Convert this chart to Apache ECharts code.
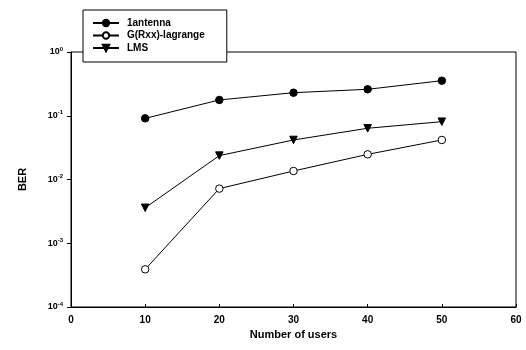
<!DOCTYPE html>
<html>
<head>
<meta charset="utf-8">
<script src="https://cdn.jsdelivr.net/npm/echarts@6/dist/echarts.min.js"></script>
<style>
  html, body { margin: 0; padding: 0; background: #fff; }
  #chart { width: 526px; height: 350px; }
</style>
</head>
<body>
<div id="chart"></div>
<script>
// Number of users on the x axis
const users = [10, 20, 30, 40, 50];

// Bit error rate per scheme
const berOneAntenna = [0.091, 0.177, 0.23, 0.26, 0.355];
const berLagrange = [0.00039, 0.0072, 0.0136, 0.0248, 0.0417];
const berLMS = [0.0036, 0.0237, 0.0417, 0.0636, 0.0807];

const seriesNames = ['1antenna', 'G(Rxx)-lagrange', 'LMS'];
const yTickExponents = ['0', '-1', '-2', '-3', '-4'];

const font = 'Liberation Sans, Arial, sans-serif';

function pairs(ys) {
  return users.map((u, i) => [u, ys[i]]);
}

const chart = echarts.init(document.getElementById('chart'), null, { renderer: 'canvas' });

chart.setOption({
  animation: false,
  backgroundColor: '#fff',
  grid: {
    left: 71, right: 10, top: 52, bottom: 43,
    show: true, borderColor: '#000', borderWidth: 1, backgroundColor: 'transparent'
  },
  legend: {
    orient: 'vertical',
    left: 83, top: 10,
    backgroundColor: '#fff',
    borderColor: '#000', borderWidth: 1,
    padding: [8, 22, 9, 9],
    itemWidth: 26, itemHeight: 8, itemGap: 2.5,
    textStyle: { fontFamily: font, fontSize: 10, fontWeight: 'bold', color: '#000', padding: [0, 0, 0, 3] },
    data: seriesNames
  },
  xAxis: {
    type: 'value',
    min: 0, max: 60, interval: 10,
    name: 'Number of users',
    nameLocation: 'middle',
    nameGap: 22,
    nameTextStyle: { fontFamily: font, fontSize: 11, fontWeight: 'bold', color: '#000' },
    axisLine: { lineStyle: { color: '#000', width: 1 } },
    axisTick: { inside: true, length: 3, lineStyle: { color: '#000' } },
    axisLabel: { fontFamily: font, fontSize: 10, fontWeight: 'bold', color: '#000', margin: 8 },
    splitLine: { show: false }
  },
  yAxis: {
    type: 'log',
    logBase: 10,
    min: 1e-4, max: 1,
    name: 'BER',
    nameLocation: 'middle',
    nameGap: 43,
    nameRotate: 90,
    nameTextStyle: { fontFamily: font, fontSize: 11, fontWeight: 'bold', color: '#000' },
    axisLine: { lineStyle: { color: '#000', width: 1 } },
    axisTick: { length: 4, lineStyle: { color: '#000' } },
    axisLabel: {
      margin: 8,
      formatter: function (v) {
        const e = Math.round(Math.log10(v));
        const exp = yTickExponents.find(s => Number(s) === e) || String(e);
        return '{b|10}{s|' + exp + '}';
      },
      rich: {
        b: { fontFamily: font, fontSize: 9, fontWeight: 'bold', color: '#000' },
        s: { fontFamily: font, fontSize: 6, fontWeight: 'bold', color: '#000', padding: [0, 0, 6, 0] }
      }
    },
    splitLine: { show: false }
  },
  series: [
    {
      name: seriesNames[0], type: 'line', data: pairs(berOneAntenna),
      symbol: 'circle', symbolSize: 7.5,
      lineStyle: { color: '#000', width: 1 },
      itemStyle: { color: '#000', borderColor: '#000', borderWidth: 1 }
    },
    {
      name: seriesNames[1], type: 'line', data: pairs(berLagrange),
      symbol: 'circle', symbolSize: 7.5,
      lineStyle: { color: '#000', width: 1 },
      itemStyle: { color: '#fff', borderColor: '#000', borderWidth: 1 }
    },
    {
      name: seriesNames[2], type: 'line', data: pairs(berLMS),
      symbol: 'triangle', symbolSize: 7.5, symbolRotate: 180,
      lineStyle: { color: '#000', width: 1 },
      itemStyle: { color: '#000', borderColor: '#000', borderWidth: 1 }
    }
  ]
});
</script>
</body>
</html>
